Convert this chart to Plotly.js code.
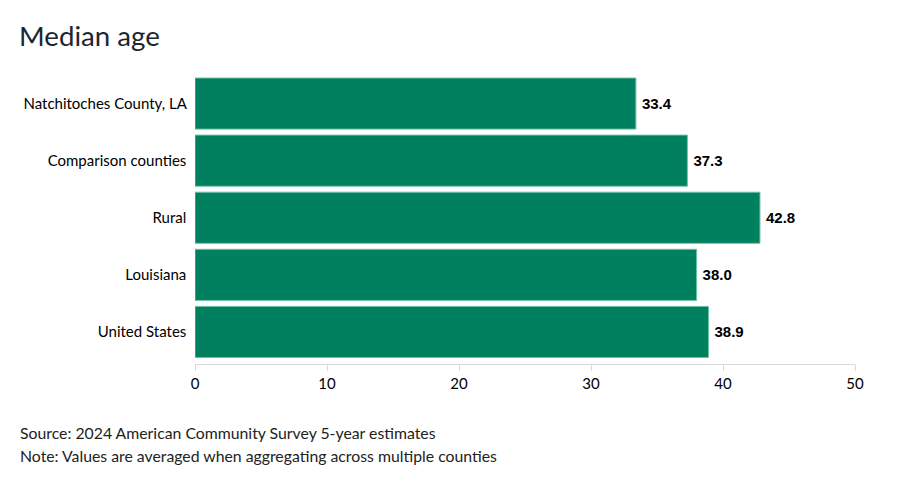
<!DOCTYPE html>
<html><head><meta charset="utf-8">
<script src="https://cdn.plot.ly/plotly-3.0.1.min.js"></script>
<style>body{margin:0;background:#fff}#c{width:900px;height:488px}</style>
</head><body><div id="c"></div>
<script>
const categories = ["Natchitoches County, LA","Comparison counties","Rural","Louisiana","United States"];
const values = [33.4, 37.3, 42.8, 38.0, 38.9];
const tickVals = [0,10,20,30,40,50];

const trace = {
  type: 'bar', orientation: 'h',
  y: categories, x: values,
  text: values.map(v => '\u2009<b>' + v.toFixed(1) + '</b>'),
  textposition: 'outside', cliponaxis: false,
  textfont: {family: 'Liberation Sans, Arial, sans-serif', size: 15, color: '#000'},
  marker: {color: '#00805E', line: {color: '#6cc0a6', width: 1}},
  hoverinfo: 'none'
};
const T = 75, B = 124, L = 195, R = 45;
const layout = {
  width: 900, height: 488,
  margin: {l: L, r: R, t: T, b: B},
  paper_bgcolor: '#fff', plot_bgcolor: '#fff',
  bargap: 0.105,
  font: {family: 'Lato, sans-serif', size: 15, color: '#000'},
  xaxis: {range: [0, 50], tickvals: tickVals, showgrid: false, zeroline: false,
          showline: true, linecolor: '#d9d9d9', linewidth: 1,
          ticks: 'outside', ticklen: 6, tickcolor: '#d9d9d9',
          tickfont: {family: 'Lato, sans-serif', size: 15, color: '#000'}},
  yaxis: {range: [4.561, -0.5], showgrid: false, zeroline: false, showline: false,
          ticks: '', ticksuffix: '  ',
          tickfont: {family: 'Lato, sans-serif', size: 15, color: '#000'}},
  showlegend: false,
  annotations: [
    {text: 'Median age', xanchor: 'left', yanchor: 'middle',
     font: {family: 'Lato, sans-serif', size: 27.7, color: '#1b2630'}},
    {text: 'Source: 2024 American Community Survey 5-year estimates', xanchor: 'left', yanchor: 'middle',
     font: {family: 'Lato, sans-serif', size: 15.8, color: '#222'}},
    {text: 'Note: Values are averaged when aggregating across multiple counties', xanchor: 'left', yanchor: 'middle',
     font: {family: 'Lato, sans-serif', size: 15.8, color: '#222'}}
  ]
};
const ph = 488 - T - B, pw = 900 - L - R;
const px = x => (x - L) / pw, py = y => (488 - B - y) / ph;
const pos = [[17, 36], [18, 432], [18, 455]];
layout.annotations.forEach((a, i) => {
  Object.assign(a, {xref: 'paper', yref: 'paper', showarrow: false, x: px(pos[i][0]), y: py(pos[i][1])});
});
Plotly.newPlot('c', [trace], layout, {staticPlot: true, displayModeBar: false});
</script></body></html>
